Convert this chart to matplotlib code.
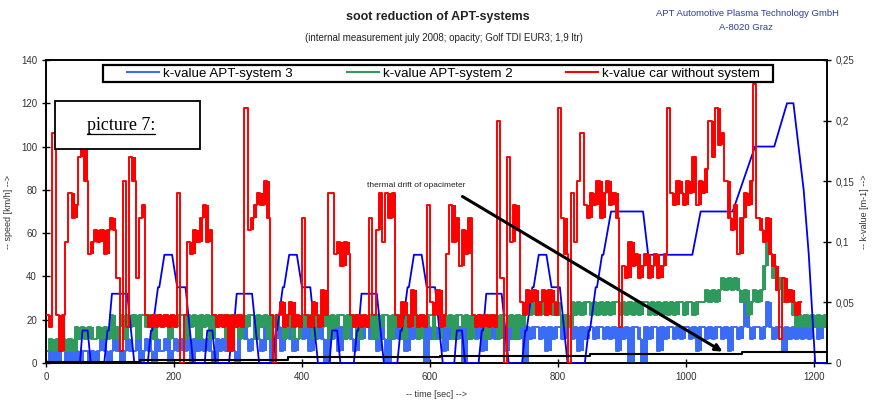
import numpy as np
import matplotlib.pyplot as plt
from matplotlib.lines import Line2D
from matplotlib.patches import Rectangle

plt.rcParams['font.family'] = ['Liberation Sans', 'DejaVu Sans']

STEP = 5  # seconds between the k-value samples

# k-values in 1/100 m-1, one value every 5 s
k_car = [
    4, 3, 19, 4, 1, 4, 10, 14, 12, 13, 17, 18,
    15, 9, 10, 11, 10, 11, 9, 11, 12, 11, 7, 1,
    15, 3, 17, 15, 7, 12, 13, 4, 3, 4, 3, 4,
    3, 4, 3, 4, 3, 14, 0, 4, 10, 9, 11, 10,
    12, 13, 10, 11, 4, 3, 4, 3, 4, 1, 4, 3,
    4, 3, 21, 11, 12, 13, 14, 13, 15, 12, 4, 0,
    4, 5, 3, 4, 5, 3, 4, 3, 12, 4, 3, 5,
    4, 3, 6, 4, 14, 14, 9, 10, 8, 10, 9, 4,
    3, 4, 3, 4, 3, 12, 4, 11, 14, 10, 14, 12,
    14, 4, 3, 5, 4, 3, 6, 4, 3, 4, 3, 13,
    5, 4, 6, 3, 4, 9, 13, 10, 12, 8, 11, 9,
    12, 4, 3, 4, 3, 4, 3, 4, 3, 20, 7, 0,
    17, 10, 13, 11, 5, 4, 6, 5, 6, 4, 5, 6,
    4, 6, 5, 4, 21, 12, 9, 0, 14, 10, 15, 19,
    13, 12, 14, 13, 15, 12, 14, 15, 13, 14, 12, 3,
    8, 7, 10, 8, 9, 7, 8, 9, 7, 8, 9, 7,
    8, 9, 21, 14, 13, 15, 14, 13, 15, 14, 17, 13,
    15, 14, 16, 20, 17, 21, 18, 19, 15, 12, 11, 13,
    9, 12, 14, 13, 15, 23, 12, 11, 10, 12, 9, 8,
    6, 2, 7, 5, 6, 5, 4, 5,
]

k_sys2 = [
    1, 2, 1, 2, 1, 2, 1, 2, 1,
    3, 2, 3, 2, 3, 2, 2, 3,
    2, 3, 2, 4, 2, 3, 4, 2, 4, 3, 4, 2, 4,
    4, 3, 4, 2, 4, 4, 3, 4, 2, 4, 3, 4, 4, 2, 4, 3, 4, 2, 4, 3,
    4, 2, 4, 3, 4, 4, 2, 4, 3, 4, 2, 4, 3, 4, 4, 2, 4, 3, 4, 2,
    4, 3, 4, 4, 2, 4, 3, 2, 2, 3, 4, 3, 4, 2, 4, 4, 3, 4, 2, 4,
    3, 4, 4, 2, 4, 3, 4, 2, 4, 4, 3, 4, 2, 4, 3, 4, 4, 2, 4, 3,
    4, 2, 4, 4, 3, 4, 2, 4, 3, 4, 4, 2, 2, 3, 4, 3, 4, 2, 4, 4,
    3, 4, 2, 4, 3, 4, 4, 2, 4, 3, 4, 2, 4, 4, 3, 4, 2, 4, 3, 4,
    5, 4, 5, 4, 4, 5, 4, 5, 4, 5,
    4, 3, 4, 3,
    5, 4, 5, 4, 5, 5, 4, 5, 4, 5, 4, 5, 4, 5, 5, 4, 5, 4, 5, 4,
    5, 4, 5, 5, 4, 5, 4, 5, 4, 5, 4,
    5, 4, 5, 5, 4, 5, 5, 4, 5, 5, 5, 6, 5, 6, 5,
    6, 7, 6, 7, 6, 7, 6,
    5, 6, 4, 5, 6, 5, 6,
    8, 10, 9, 7,
    6, 7, 5, 6, 5,
    4, 3, 4, 3, 4, 3, 4, 3, 4, 3, 4,
]

k_sys3 = [
    1, 0, 1, 0, 1, 1, 0, 1, 0, 1, 0, 1, 1, 0, 1, 0, 1, 2, 1, 0,
    1, 2, 1, 0, 1, 2, 1, 1, 2, 0, 1, 2, 1, 0, 2, 1, 1, 2, 0, 1,
    2, 1, 2, 1, 2, 0, 2, 1, 2, 1, 2, 1, 0, 2, 1, 2, 1, 2, 1, 0,
    2, 3, 2, 1, 2, 3, 2, 1, 3, 2, 0, 2, 3, 1, 2, 3, 2, 1, 2, 3,
    2, 3, 1, 3, 2, 3, 2, 0, 3, 2, 3, 1, 3, 2, 3, 2, 1, 3, 2, 3,
    3, 2, 3, 1, 3, 2, 0, 3, 2, 3, 2, 3, 1, 3, 2, 3, 2, 3, 0, 3,
    2, 3, 2, 3, 1, 3, 2, 3, 2, 3, 0, 3, 2, 3, 2, 3, 1, 3, 2, 3,
    2, 3, 3, 1, 3, 2, 3, 2, 3, 0, 3, 2, 3, 3, 2, 3, 1, 3, 2, 3,
    3, 2, 3, 3, 2, 3, 1, 3, 2, 3, 3, 2, 3, 3, 2, 3, 2, 3, 1, 3,
    2, 3, 0, 3, 3, 2, 0, 3, 2, 3, 3, 1, 3, 2, 3, 3, 2, 3, 2, 3,
    3, 2, 3, 1, 3, 3, 2, 3, 2, 3, 3, 2, 3, 1, 3, 3, 2, 3, 5, 3,
    2, 3, 3, 2, 3, 5, 3, 2, 3, 3, 1, 3, 2, 3, 2, 3, 2, 3, 2, 3,
    3, 2, 3, 3,
]

# driving cycle (speed in km/h) as break points
speed_t = [0,
           53, 57, 65, 70, 91, 96, 98, 103, 127, 138, 159, 164, 166, 175, 177, 185, 197, 205, 218, 230,
           248, 252, 260, 265, 286, 291, 293, 298, 322, 333, 354, 359, 361, 370, 372, 380, 392, 400, 413, 425,
           443, 447, 455, 460, 481, 486, 488, 493, 517, 528, 549, 554, 556, 565, 567, 575, 587, 595, 608, 620,
           638, 642, 650, 655, 676, 681, 683, 688, 712, 723, 744, 749, 751, 760, 762, 770, 782, 790, 803, 815,
           842, 848, 850, 859, 861, 869, 871, 883, 933, 941, 1010, 1023, 1073, 1108, 1138, 1158, 1168, 1184, 1192, 1202, 1220]
ece = [0, 15, 15, 0, 0, 15, 15, 32, 32, 0, 0, 15, 15, 35, 35, 50, 50, 35, 35, 0]
speed_v = [0] + ece + ece + ece + ece + [0, 15, 15, 35, 35, 50, 50, 70, 70, 50, 50, 70, 70, 100, 100, 120, 120, 80, 50, 0, 0]

# opacimeter zero drift
drift_t = [0, 147, 378, 615, 850, 1087, 1220]
drift_v = [0.0011, 0.0027, 0.0046, 0.0059, 0.0077, 0.0089, 0.0089]


def noisy(a, vals, color, z):
    v = np.array(vals) / 100.0
    t = np.arange(len(v) + 1) * STEP
    a.step(t, np.append(v, v[-1]), where='post', color=color, lw=1.4, zorder=z)
    # the opacimeter toggles every second: small jumps between samples show up as solid bands
    prev = np.r_[v[0], v[:-1]]
    lo, hi = np.minimum(v, prev), np.maximum(v, prev)
    keep = (hi - lo) < 0.035
    xs = np.column_stack([t[:-1], t[1:]]).ravel()
    a.fill_between(xs, np.repeat(lo, 2), np.repeat(hi, 2), where=np.repeat(keep, 2),
                   color=color, lw=0, zorder=z)


fig = plt.figure(figsize=(8.75, 4.01), dpi=100)
ax = fig.add_axes([0.0526, 0.0948, 0.8922, 0.7556])
ax2 = ax.twinx()

ax.set_xlim(0, 1220)
ax.set_ylim(0, 140)
ax2.set_ylim(0, 0.25)

noisy(ax2, k_sys3, '#3b6cf5', 1)
noisy(ax2, k_sys2, '#2e9a5c', 2)
ax2.plot(speed_t, speed_v, color='#0000ee', lw=1.3, zorder=3, transform=ax.transData)
noisy(ax2, k_car, '#ff0000', 4)
ax2.step(drift_t, drift_v, where='post', color='black', lw=1.5, zorder=5)

# ticks and labels
ax.set_yticks(range(0, 141, 20))
ax.set_xticks(range(0, 1201, 200))
ax2.set_yticks([0, 0.05, 0.1, 0.15, 0.2, 0.25])
ax2.set_yticklabels(['0', '0,05', '0,1', '0,15', '0,2', '0,25'])
for a in (ax, ax2):
    a.tick_params(direction='inout', length=6, width=1, labelsize=7, labelcolor='#333333')
    for s in a.spines.values():
        s.set_linewidth(1.2)
ax.set_ylabel('-- speed [km/h] -->', fontsize=6.5, color='#333333', labelpad=6)
ax2.set_ylabel('-- k-value [m-1] -->', fontsize=6.5, color='#333333', rotation=90, labelpad=4)
ax.set_xlabel('-- time [sec] -->', fontsize=6.5, color='#333333', labelpad=6)

# legend across the top, with its own frame
ax2.add_patch(Rectangle((0.073, 0.927), 0.858, 0.056, transform=ax2.transAxes,
                        facecolor='white', edgecolor='black', lw=1.6, zorder=9))
handles = [Line2D([], [], color='#3b6cf5', lw=1.5),
           Line2D([], [], color='#2e9a5c', lw=1.5),
           Line2D([], [], color='#ff0000', lw=1.5)]
labels = ['k-value APT-system 3', 'k-value APT-system 2', 'k-value car without system']
leg = ax2.legend(handles, labels, ncol=3, mode='expand', loc='center left',
                 bbox_to_anchor=(0.104, 0.955, 0.81, 0.0), fontsize=9.6, frameon=False,
                 borderpad=0, borderaxespad=0, handlelength=2.4, handletextpad=0.3,
                 columnspacing=1.0)
leg.set_zorder(10)

# annotation
ax.text(502, 82, 'thermal drift of opacimeter', fontsize=6, color='#222222', va='center')
ax2.annotate('', xy=(1061, 4.6), xytext=(647, 77.6), xycoords=ax.transData, textcoords=ax.transData,
             arrowprops=dict(arrowstyle='-|>', lw=2.2, color='black', mutation_scale=10), zorder=6)

# header
fig.text(0.5, 0.957, 'soot reduction of APT-systems', ha='center', va='center',
         fontsize=9, fontweight='bold', color='#222222')
fig.text(0.507, 0.905, '(internal measurement july 2008; opacity; Golf TDI EUR3; 1,9 ltr)',
         ha='center', va='center', fontsize=7, color='#222222')
fig.text(0.854, 0.967, 'APT Automotive Plasma Technology GmbH', ha='center', va='center',
         fontsize=6.8, color='#2d3d9c')
fig.text(0.852, 0.932, 'A-8020 Graz', ha='center', va='center', fontsize=6.8, color='#2d3d9c')

# "picture 7:" box
fig.patches.append(Rectangle((55 / 875, 1 - 149 / 401), 145 / 875, 48 / 401,
                             transform=fig.transFigure, facecolor='white',
                             edgecolor='black', lw=1.3, zorder=20))
pic = fig.text(121 / 875, 1 - 126 / 401, 'picture 7:', ha='center', va='center',
               fontsize=13, family='Liberation Serif', zorder=21)
fig.canvas.draw()
bb = pic.get_window_extent().transformed(fig.transFigure.inverted())
fig.add_artist(Line2D([bb.x0, bb.x1], [bb.y0 + 0.002, bb.y0 + 0.002], transform=fig.transFigure,
                      color='black', lw=0.9, zorder=21))

fig.savefig('out.png', dpi=100)
